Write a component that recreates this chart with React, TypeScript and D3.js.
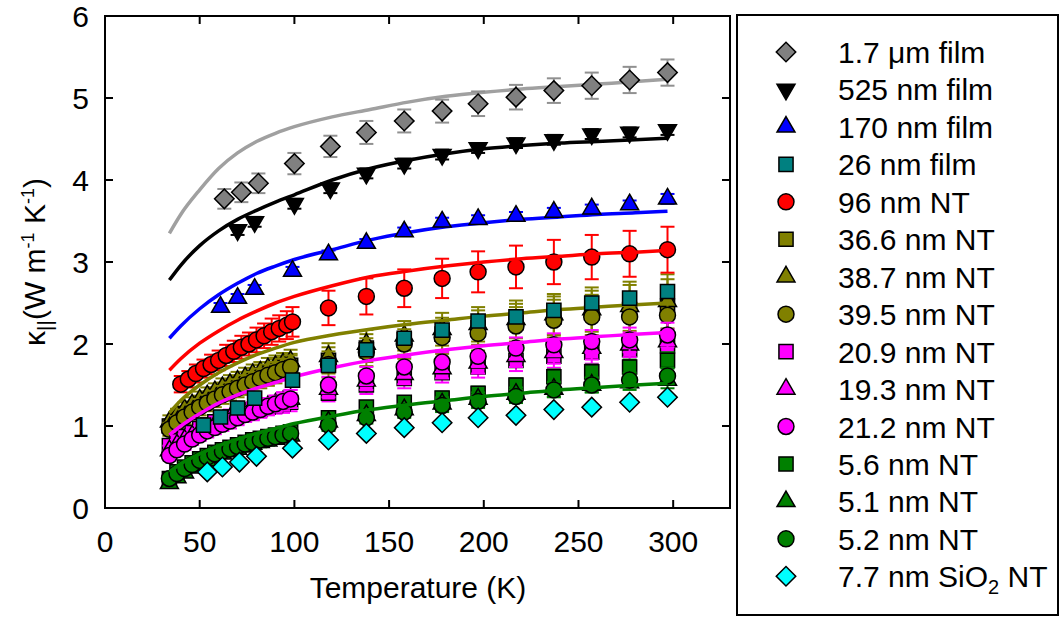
import React from 'react';
import * as d3 from 'd3';

// temperatures (K)
const tNT = [34, 38, 42, 46, 50, 54, 58, 62, 66, 70, 74, 78, 82, 86, 90, 94, 98];
const tRed = [40, 44, 48, 52, 56, 60, 64, 68, 72, 76, 80, 84, 88, 92, 96, 99];
const tSparse = [118, 138, 158, 178, 197, 217, 237, 257, 277, 297];
const t17um = [63, 72, 81, 100, 119, 138, 158, 178, 197, 217, 237, 257, 277, 297];
const t525 = [70, 79, 100, 119, 138, 158, 178, 197, 217, 237, 257, 277, 297];
const t170 = [61, 70, 79, 99, 118, 138, 158, 178, 197, 217, 237, 257, 277, 297];
const t26 = [52, 61, 70, 79, 99, 118, 138, 158, 178, 197, 217, 237, 257, 277, 297];
const tSiO2 = [54, 62, 71, 80, 99, 118, 138, 158, 178, 197, 217, 237, 257, 277, 297];

// films
const k17um = [3.77, 3.85, 3.96, 4.2, 4.41, 4.58, 4.72, 4.84, 4.93, 5.01, 5.09, 5.15, 5.22, 5.31];
const e17um = [0.12, 0.12, 0.12, 0.13, 0.13, 0.14, 0.14, 0.14, 0.15, 0.15, 0.15, 0.16, 0.16, 0.16];
const k525 = [3.39, 3.49, 3.71, 3.9, 4.08, 4.2, 4.31, 4.39, 4.45, 4.49, 4.56, 4.58, 4.61];
const e525 = [0.06, 0.06, 0.06, 0.06, 0.06, 0.06, 0.06, 0.06, 0.06, 0.06, 0.06, 0.06, 0.06];
const k170 = [2.45, 2.56, 2.67, 2.89, 3.09, 3.23, 3.37, 3.49, 3.52, 3.56, 3.61, 3.65, 3.7, 3.77];
const e170 = [0.05, 0.05, 0.05, 0.05, 0.05, 0.05, 0.05, 0.05, 0.05, 0.05, 0.05, 0.05, 0.05, 0.06];
const k26 = [1.01, 1.11, 1.22, 1.34, 1.56, 1.74, 1.93, 2.07, 2.17, 2.28, 2.33, 2.41, 2.5, 2.56, 2.64];
const kSiO2 = [0.44, 0.5, 0.56, 0.63, 0.73, 0.83, 0.91, 0.98, 1.04, 1.1, 1.13, 1.2, 1.23, 1.29, 1.35];
const eSiO2 = [0.03, 0.03, 0.03, 0.03, 0.03, 0.03, 0.03, 0.03, 0.03, 0.03, 0.03, 0.03, 0.03, 0.03, 0.03];

// 96 nm NT
const k96 = [1.51, 1.57, 1.64, 1.7, 1.75, 1.8, 1.86, 1.91, 1.96, 2.0, 2.05, 2.1, 2.15, 2.19, 2.23, 2.27,
  2.44, 2.58, 2.68, 2.8, 2.88, 2.94, 3.0, 3.06, 3.1, 3.15];
const e96 = [0.1, 0.1, 0.11, 0.11, 0.12, 0.12, 0.13, 0.13, 0.14, 0.14, 0.15, 0.15, 0.16, 0.16, 0.17, 0.18,
  0.21, 0.22, 0.23, 0.24, 0.25, 0.26, 0.27, 0.27, 0.28, 0.28];

// olive group
const k366 = [1.0, 1.08, 1.15, 1.21, 1.27, 1.32, 1.37, 1.42, 1.46, 1.5, 1.54, 1.58, 1.62, 1.65, 1.68, 1.71, 1.74,
  1.8, 1.95, 2.05, 2.12, 2.2, 2.26, 2.33, 2.38, 2.42, 2.46];
const k387 = [1.05, 1.13, 1.2, 1.26, 1.32, 1.37, 1.42, 1.47, 1.51, 1.55, 1.59, 1.63, 1.66, 1.7, 1.73, 1.76, 1.79,
  1.85, 2.0, 2.1, 2.18, 2.24, 2.3, 2.36, 2.42, 2.46, 2.52];
const k395 = [0.96, 1.04, 1.11, 1.17, 1.23, 1.28, 1.33, 1.38, 1.42, 1.46, 1.5, 1.54, 1.58, 1.62, 1.65, 1.69, 1.72,
  1.75, 1.9, 2.0, 2.08, 2.13, 2.22, 2.29, 2.33, 2.33, 2.35];
const eOlive = [0.08, 0.08, 0.09, 0.09, 0.1, 0.1, 0.1, 0.11, 0.11, 0.11, 0.12, 0.12, 0.12, 0.13, 0.13, 0.13, 0.14,
  0.16, 0.17, 0.18, 0.2, 0.21, 0.23, 0.25, 0.27, 0.3, 0.33];

// magenta group
const k209 = [0.76, 0.82, 0.87, 0.92, 0.97, 1.01, 1.05, 1.08, 1.11, 1.14, 1.17, 1.19, 1.21, 1.23, 1.25, 1.27, 1.29,
  1.4, 1.5, 1.58, 1.65, 1.72, 1.8, 1.85, 1.9, 1.93, 1.98];
const k193 = [0.7, 0.77, 0.83, 0.88, 0.93, 0.97, 1.01, 1.05, 1.09, 1.12, 1.15, 1.18, 1.21, 1.24, 1.27, 1.3, 1.33,
  1.45, 1.55, 1.63, 1.7, 1.77, 1.85, 1.9, 1.95, 1.99, 2.03];
const k212 = [0.64, 0.71, 0.78, 0.84, 0.89, 0.94, 0.98, 1.02, 1.06, 1.1, 1.14, 1.17, 1.2, 1.24, 1.27, 1.3, 1.33,
  1.5, 1.61, 1.72, 1.78, 1.85, 1.95, 1.99, 2.03, 2.05, 2.11];
const eMagenta = [0.06, 0.06, 0.07, 0.07, 0.07, 0.08, 0.08, 0.08, 0.09, 0.09, 0.09, 0.1, 0.1, 0.1, 0.1, 0.11, 0.11,
  0.1, 0.11, 0.12, 0.12, 0.13, 0.13, 0.14, 0.14, 0.15, 0.15];

// green group
const k56 = [0.36, 0.44, 0.5, 0.55, 0.6, 0.64, 0.68, 0.71, 0.74, 0.77, 0.8, 0.83, 0.85, 0.87, 0.89, 0.91, 0.93,
  1.1, 1.23, 1.29, 1.34, 1.4, 1.5, 1.6, 1.66, 1.72, 1.8];
const k51 = [0.3, 0.37, 0.43, 0.49, 0.54, 0.58, 0.62, 0.66, 0.69, 0.72, 0.75, 0.78, 0.8, 0.82, 0.84, 0.86, 0.88,
  1.05, 1.13, 1.2, 1.27, 1.33, 1.39, 1.45, 1.5, 1.53, 1.56];
const k52 = [0.36, 0.42, 0.48, 0.53, 0.58, 0.62, 0.66, 0.69, 0.72, 0.75, 0.78, 0.8, 0.83, 0.85, 0.87, 0.89, 0.91,
  1.01, 1.1, 1.17, 1.25, 1.3, 1.36, 1.44, 1.5, 1.56, 1.61];
const eGreen = [0.04, 0.04, 0.04, 0.04, 0.05, 0.05, 0.05, 0.05, 0.05, 0.05, 0.06, 0.06, 0.06, 0.06, 0.06, 0.06, 0.06,
  0.07, 0.07, 0.07, 0.08, 0.08, 0.08, 0.09, 0.09, 0.09, 0.1];

// model curves
const fitT = [34, 40, 50, 60, 70, 80, 90, 100, 120, 140, 160, 180, 200, 220, 240, 260, 280, 297];
const fitGrey = [3.35, 3.58, 3.88, 4.14, 4.33, 4.47, 4.57, 4.65, 4.77, 4.86, 4.95, 5.02, 5.07, 5.11, 5.14, 5.17, 5.2, 5.23];
const fitBlack = [2.78, 2.96, 3.2, 3.38, 3.52, 3.63, 3.73, 3.82, 4.0, 4.14, 4.24, 4.32, 4.38, 4.42, 4.45, 4.47, 4.49, 4.51];
const fitBlue = [2.07, 2.22, 2.43, 2.6, 2.74, 2.86, 2.95, 3.03, 3.15, 3.27, 3.36, 3.43, 3.48, 3.52, 3.55, 3.58, 3.6, 3.62];
const fitRed = [1.68, 1.82, 2.01, 2.16, 2.29, 2.4, 2.5, 2.58, 2.71, 2.82, 2.89, 2.95, 3.0, 3.04, 3.07, 3.1, 3.12, 3.14];
const fitOlive = [1.16, 1.31, 1.5, 1.65, 1.77, 1.87, 1.95, 2.02, 2.11, 2.18, 2.24, 2.29, 2.34, 2.38, 2.42, 2.45, 2.48, 2.5];
const fitMagenta = [0.89, 1.0, 1.15, 1.28, 1.38, 1.46, 1.53, 1.6, 1.71, 1.8, 1.87, 1.93, 1.98, 2.02, 2.06, 2.09, 2.12, 2.14];
const fitGreen = [0.44, 0.54, 0.66, 0.76, 0.84, 0.91, 0.97, 1.03, 1.12, 1.2, 1.26, 1.31, 1.36, 1.4, 1.44, 1.47, 1.5, 1.52];

const xTicks = [0, 50, 100, 150, 200, 250, 300];
const yTicks = [0, 1, 2, 3, 4, 5, 6];

type Shape = 'circle' | 'square' | 'triangle' | 'invtri' | 'diamond';

const legendNames = ['1.7 μm film', '525 nm film', '170 nm film', '26 nm film', '96 nm NT', '36.6 nm NT',
  '38.7 nm NT', '39.5 nm NT', '20.9 nm NT', '19.3 nm NT', '21.2 nm NT', '5.6 nm NT', '5.1 nm NT',
  '5.2 nm NT', '7.7 nm SiO2 NT'];
const legendColors = ['#808080', '#000000', '#0000ff', '#008080', '#ff0000', '#808000', '#808000', '#808000',
  '#ff00ff', '#ff00ff', '#ff00ff', '#008000', '#008000', '#008000', '#00ffff'];
const legendShapes: Shape[] = ['diamond', 'invtri', 'triangle', 'square', 'circle', 'square', 'triangle', 'circle',
  'square', 'triangle', 'circle', 'square', 'triangle', 'circle', 'diamond'];

const tNTall = [...tNT, ...tSparse];
const tRedAll = [...tRed, ...tSparse];
const seriesT = [t17um, t525, t170, t26, tRedAll, tNTall, tNTall, tNTall, tNTall, tNTall, tNTall, tNTall, tNTall, tNTall, tSiO2];
const seriesK = [k17um, k525, k170, k26, k96, k366, k387, k395, k209, k193, k212, k56, k51, k52, kSiO2];
const seriesE = [e17um, e525, e170, null, e96, eOlive, eOlive, eOlive, eMagenta, eMagenta, eMagenta, eGreen, eGreen, eGreen, eSiO2];
const errColors = ['#909090', '#000000', '#0000ff', '#008080', '#ff0000', '#808000', '#808000', '#808000',
  '#ff00ff', '#ff00ff', '#ff00ff', '#008000', '#008000', '#008000', '#00ffff'];

const fits = [
  { k: fitGrey, color: '#a0a0a0' },
  { k: fitBlack, color: '#000000' },
  { k: fitBlue, color: '#0000ff' },
  { k: fitRed, color: '#ff0000' },
  { k: fitOlive, color: '#808000' },
  { k: fitMagenta, color: '#ff00ff' },
  { k: fitGreen, color: '#008000' },
];

const FONT = "Arial, 'Liberation Sans', Helvetica, sans-serif";

const symbolPath = (shape: Shape) => {
  switch (shape) {
    case 'circle': return d3.symbol(d3.symbolCircle, 200)() as string;
    case 'square': return d3.symbol(d3.symbolSquare, 200)() as string;
    case 'diamond': return d3.symbol(d3.symbolSquare, 190)() as string;
    default: return d3.symbol(d3.symbolTriangle, 140)() as string;
  }
};
const symbolRot = (shape: Shape) => (shape === 'diamond' ? 45 : shape === 'invtri' ? 180 : 0);

export default function App() {
  const W = 1061;
  const H = 618;
  const plot = { left: 105, right: 730, top: 16, bottom: 508 };

  const x = d3.scaleLinear().domain([0, 330]).range([plot.left, plot.right]);
  const y = d3.scaleLinear().domain([0, 6]).range([plot.bottom, plot.top]);
  const line = d3.line<number>()
    .x((_, i) => x(fitT[i]))
    .y(d => y(d))
    .curve(d3.curveMonotoneX);

  const drawSeries = (idx: number) => {
    const T = seriesT[idx];
    const K = seriesK[idx];
    const E = seriesE[idx];
    const shape = legendShapes[idx];
    const path = symbolPath(shape);
    const rot = symbolRot(shape);
    return (
      <g key={`s${idx}`}>
        {E && T.map((t, i) => (
          <g key={`e${i}`} stroke={errColors[idx]} strokeWidth={2}>
            <line x1={x(t)} x2={x(t)} y1={y(K[i] - E[i])} y2={y(K[i] + E[i])} />
            <line x1={x(t) - 7} x2={x(t) + 7} y1={y(K[i] - E[i])} y2={y(K[i] - E[i])} />
            <line x1={x(t) - 7} x2={x(t) + 7} y1={y(K[i] + E[i])} y2={y(K[i] + E[i])} />
          </g>
        ))}
        {T.map((t, i) => (
          <path key={`m${i}`} d={path} transform={`translate(${x(t)},${y(K[i])}) rotate(${rot})`}
            fill={legendColors[idx]} stroke="#000" strokeWidth={1.5} />
        ))}
      </g>
    );
  };

  const underLines = [5, 6, 7, 8, 9, 10, 11, 12, 13, 4];
  const overLines = [3, 14, 2, 1, 0];

  return (
    <svg width={W} height={H} style={{ position: 'absolute', left: 0, top: 0 }} fontFamily={FONT}>
      <rect width={W} height={H} fill="#fff" />

      {underLines.map(drawSeries)}
      {fits.map((f, i) => (
        <path key={`f${i}`} d={line(f.k) as string} fill="none" stroke={f.color} strokeWidth={3.5} />
      ))}
      {overLines.map(drawSeries)}

      {/* frame */}
      <rect x={plot.left} y={plot.top} width={plot.right - plot.left} height={plot.bottom - plot.top}
        fill="none" stroke="#000" strokeWidth={2} />
      {xTicks.filter(t => t > 0).map(t => (
        <g key={`xt${t}`} stroke="#000" strokeWidth={2}>
          <line x1={x(t)} x2={x(t)} y1={plot.bottom} y2={plot.bottom - 8} />
          <line x1={x(t)} x2={x(t)} y1={plot.top} y2={plot.top + 8} />
        </g>
      ))}
      {yTicks.filter(t => t > 0 && t < 6).map(t => (
        <g key={`yt${t}`} stroke="#000" strokeWidth={2}>
          <line x1={plot.left} x2={plot.left + 8} y1={y(t)} y2={y(t)} />
          <line x1={plot.right} x2={plot.right - 8} y1={y(t)} y2={y(t)} />
        </g>
      ))}
      {xTicks.map(t => (
        <text key={`xl${t}`} x={x(t)} y={552} textAnchor="middle" fontSize={30}>{t}</text>
      ))}
      {yTicks.map(t => (
        <text key={`yl${t}`} x={89} y={y(t)} dy="0.35em" textAnchor="end" fontSize={30}>{t}</text>
      ))}
      <text x={418} y={598} textAnchor="middle" fontSize={30}>Temperature (K)</text>
      <text transform="translate(45,262) rotate(-90)" textAnchor="middle" fontSize={30}>
        <tspan>κ</tspan>
        <tspan fontSize={21} dy={7}>||</tspan>
        <tspan dy={-7}>(W m</tspan>
        <tspan fontSize={18} dy={-11}>-1</tspan>
        <tspan dy={11}> K</tspan>
        <tspan fontSize={18} dy={-11}>-1</tspan>
        <tspan dy={11}>)</tspan>
      </text>

      {/* legend */}
      <rect x={737} y={15} width={321} height={600} fill="#fff" stroke="#000" strokeWidth={2} />
      {legendNames.map((name, i) => {
        const cy = 52 + i * 37.45;
        const shape = legendShapes[i];
        const isSiO2 = name.includes('SiO2');
        return (
          <g key={`lg${i}`}>
            <path d={symbolPath(shape)} transform={`translate(786,${cy}) rotate(${symbolRot(shape)})`}
              fill={legendColors[i]} stroke="#000" strokeWidth={1.5} />
            <text x={838} y={cy + 11} fontSize={30}>
              {isSiO2 ? (
                <>
                  <tspan>7.7 nm SiO</tspan>
                  <tspan fontSize={20} dy={7}>2</tspan>
                  <tspan dy={-7}> NT</tspan>
                </>
              ) : name}
            </text>
          </g>
        );
      })}
    </svg>
  );
}
